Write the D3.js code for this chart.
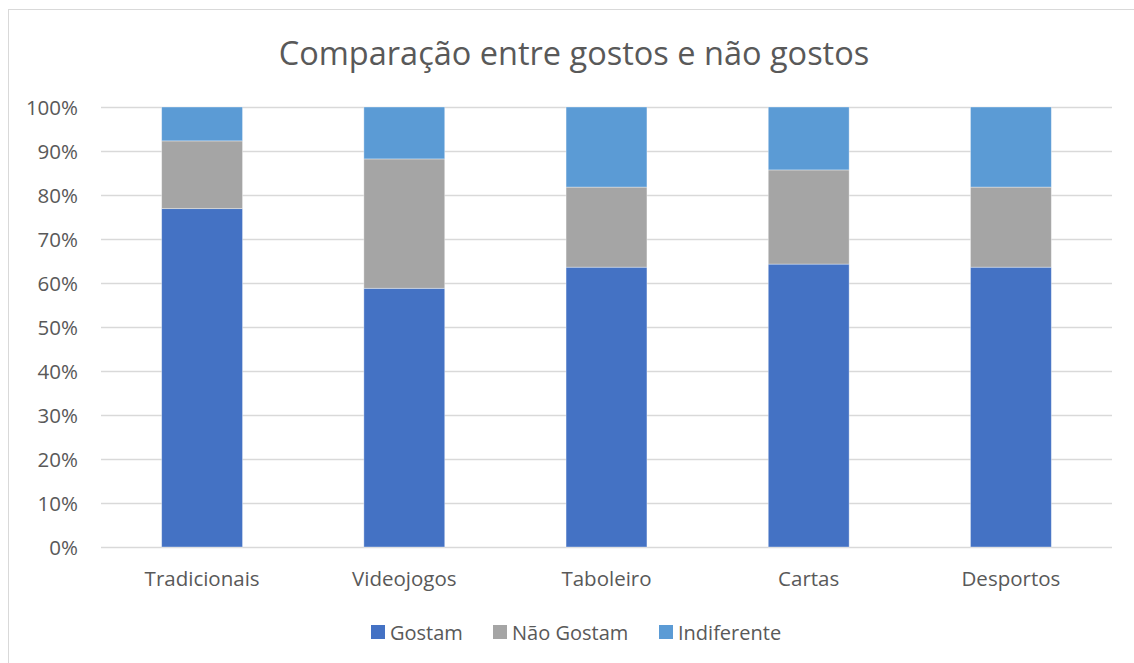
<!DOCTYPE html>
<html>
<head>
<meta charset="utf-8">
<script src="https://cdn.jsdelivr.net/npm/d3@7"></script>
<style>
  html, body { margin: 0; padding: 0; background: #fff; }
  svg { display: block; }
  text { font-family: "Open Sans", "Noto Sans", sans-serif; fill: #595959; }
</style>
</head>
<body>
<svg id="chart" width="1134" height="663"></svg>
<script>
// Categories of games and the share of answers in each group (percent)
const categories = ["Tradicionais", "Videojogos", "Taboleiro", "Cartas", "Desportos"];
const gostam      = [76.9, 58.8, 63.6, 64.3, 63.6];
const naoGostam   = [15.4, 29.4, 18.2, 21.4, 18.2];
const indiferente = [7.7, 11.8, 18.2, 14.3, 18.2];
const seriesNames = ["Gostam", "Não Gostam", "Indiferente"];
const seriesColors = ["#4472C4", "#A5A5A5", "#5B9BD5"];
const yTicks = [0, 10, 20, 30, 40, 50, 60, 70, 80, 90, 100];

const rows = categories.map((c, i) => ({
  cat: c, "Gostam": gostam[i], "Não Gostam": naoGostam[i], "Indiferente": indiferente[i]
}));

const svg = d3.select("#chart");
const W = 1134, H = 663;

// chart frame
svg.append("rect")
  .attr("x", 8.5).attr("y", 9.5)
  .attr("width", W + 10).attr("height", H + 10)
  .attr("fill", "#fff").attr("stroke", "#D9D9D9").attr("stroke-width", 1);

const plot = { left: 101, right: 1112, top: 107, bottom: 547 };

const x = d3.scaleBand()
  .domain(categories)
  .range([plot.left, plot.right])
  .paddingInner(0.6).paddingOuter(0.3);

const y = d3.scaleLinear().domain([0, 100]).range([plot.bottom, plot.top]);

// horizontal gridlines
svg.append("g")
  .selectAll("line")
  .data(yTicks)
  .join("line")
  .attr("x1", plot.left).attr("x2", plot.right)
  .attr("y1", d => Math.round(y(d)) + 0.5).attr("y2", d => Math.round(y(d)) + 0.5)
  .attr("stroke", "#D9D9D9").attr("stroke-width", 1.3);

// y axis labels
const yAxis = d3.axisLeft(y).tickValues(yTicks).tickFormat(d => d + "%").tickSize(0).tickPadding(0);
const gy = svg.append("g").attr("transform", `translate(${78},0)`).call(yAxis);
gy.select(".domain").remove();
gy.selectAll("text")
  .style("font-size", "20.5px")
  .style("font-family", "'Open Sans', 'Noto Sans', sans-serif")
  .attr("fill", "#595959")
  .attr("dy", "0.35em");

// stacked bars
const stack = d3.stack().keys(seriesNames);
const layers = stack(rows);
svg.append("g")
  .selectAll("g")
  .data(layers)
  .join("g")
  .attr("fill", (d, i) => seriesColors[i])
  .selectAll("rect")
  .data(d => d)
  .join("rect")
  .attr("x", d => x(d.data.cat))
  .attr("width", x.bandwidth())
  .attr("y", d => y(d[1]))
  .attr("height", d => y(d[0]) - y(d[1]))
  .attr("stroke", "#ffffff").attr("stroke-opacity", 0.45).attr("stroke-width", 0.8);

// x axis labels
const xAxis = d3.axisBottom(x).tickSize(0).tickPadding(0);
const gx = svg.append("g").attr("transform", `translate(0,${plot.bottom})`).call(xAxis);
gx.select(".domain").remove();
gx.selectAll("text")
  .style("font-size", "20.5px")
  .style("font-family", "'Open Sans', 'Noto Sans', sans-serif")
  .attr("fill", "#595959")
  .attr("dy", "0")
  .attr("y", 39);

// title
svg.append("text")
  .attr("x", 574).attr("y", 65)
  .attr("text-anchor", "middle")
  .style("font-size", "32.5px")
  .text("Comparação entre gostos e não gostos");

// legend
const legendItems = [
  { name: seriesNames[0], color: seriesColors[0], x: 371 },
  { name: seriesNames[1], color: seriesColors[1], x: 493 },
  { name: seriesNames[2], color: seriesColors[2], x: 659 }
];
const lg = svg.append("g");
const li = lg.selectAll("g").data(legendItems).join("g")
  .attr("transform", d => `translate(${d.x},${625})`);
li.append("rect").attr("width", 14).attr("height", 14).attr("fill", d => d.color);
li.append("text").attr("x", 19).attr("y", 14.5)
  .style("font-size", "20px")
  .text(d => d.name);
</script>
</body>
</html>
